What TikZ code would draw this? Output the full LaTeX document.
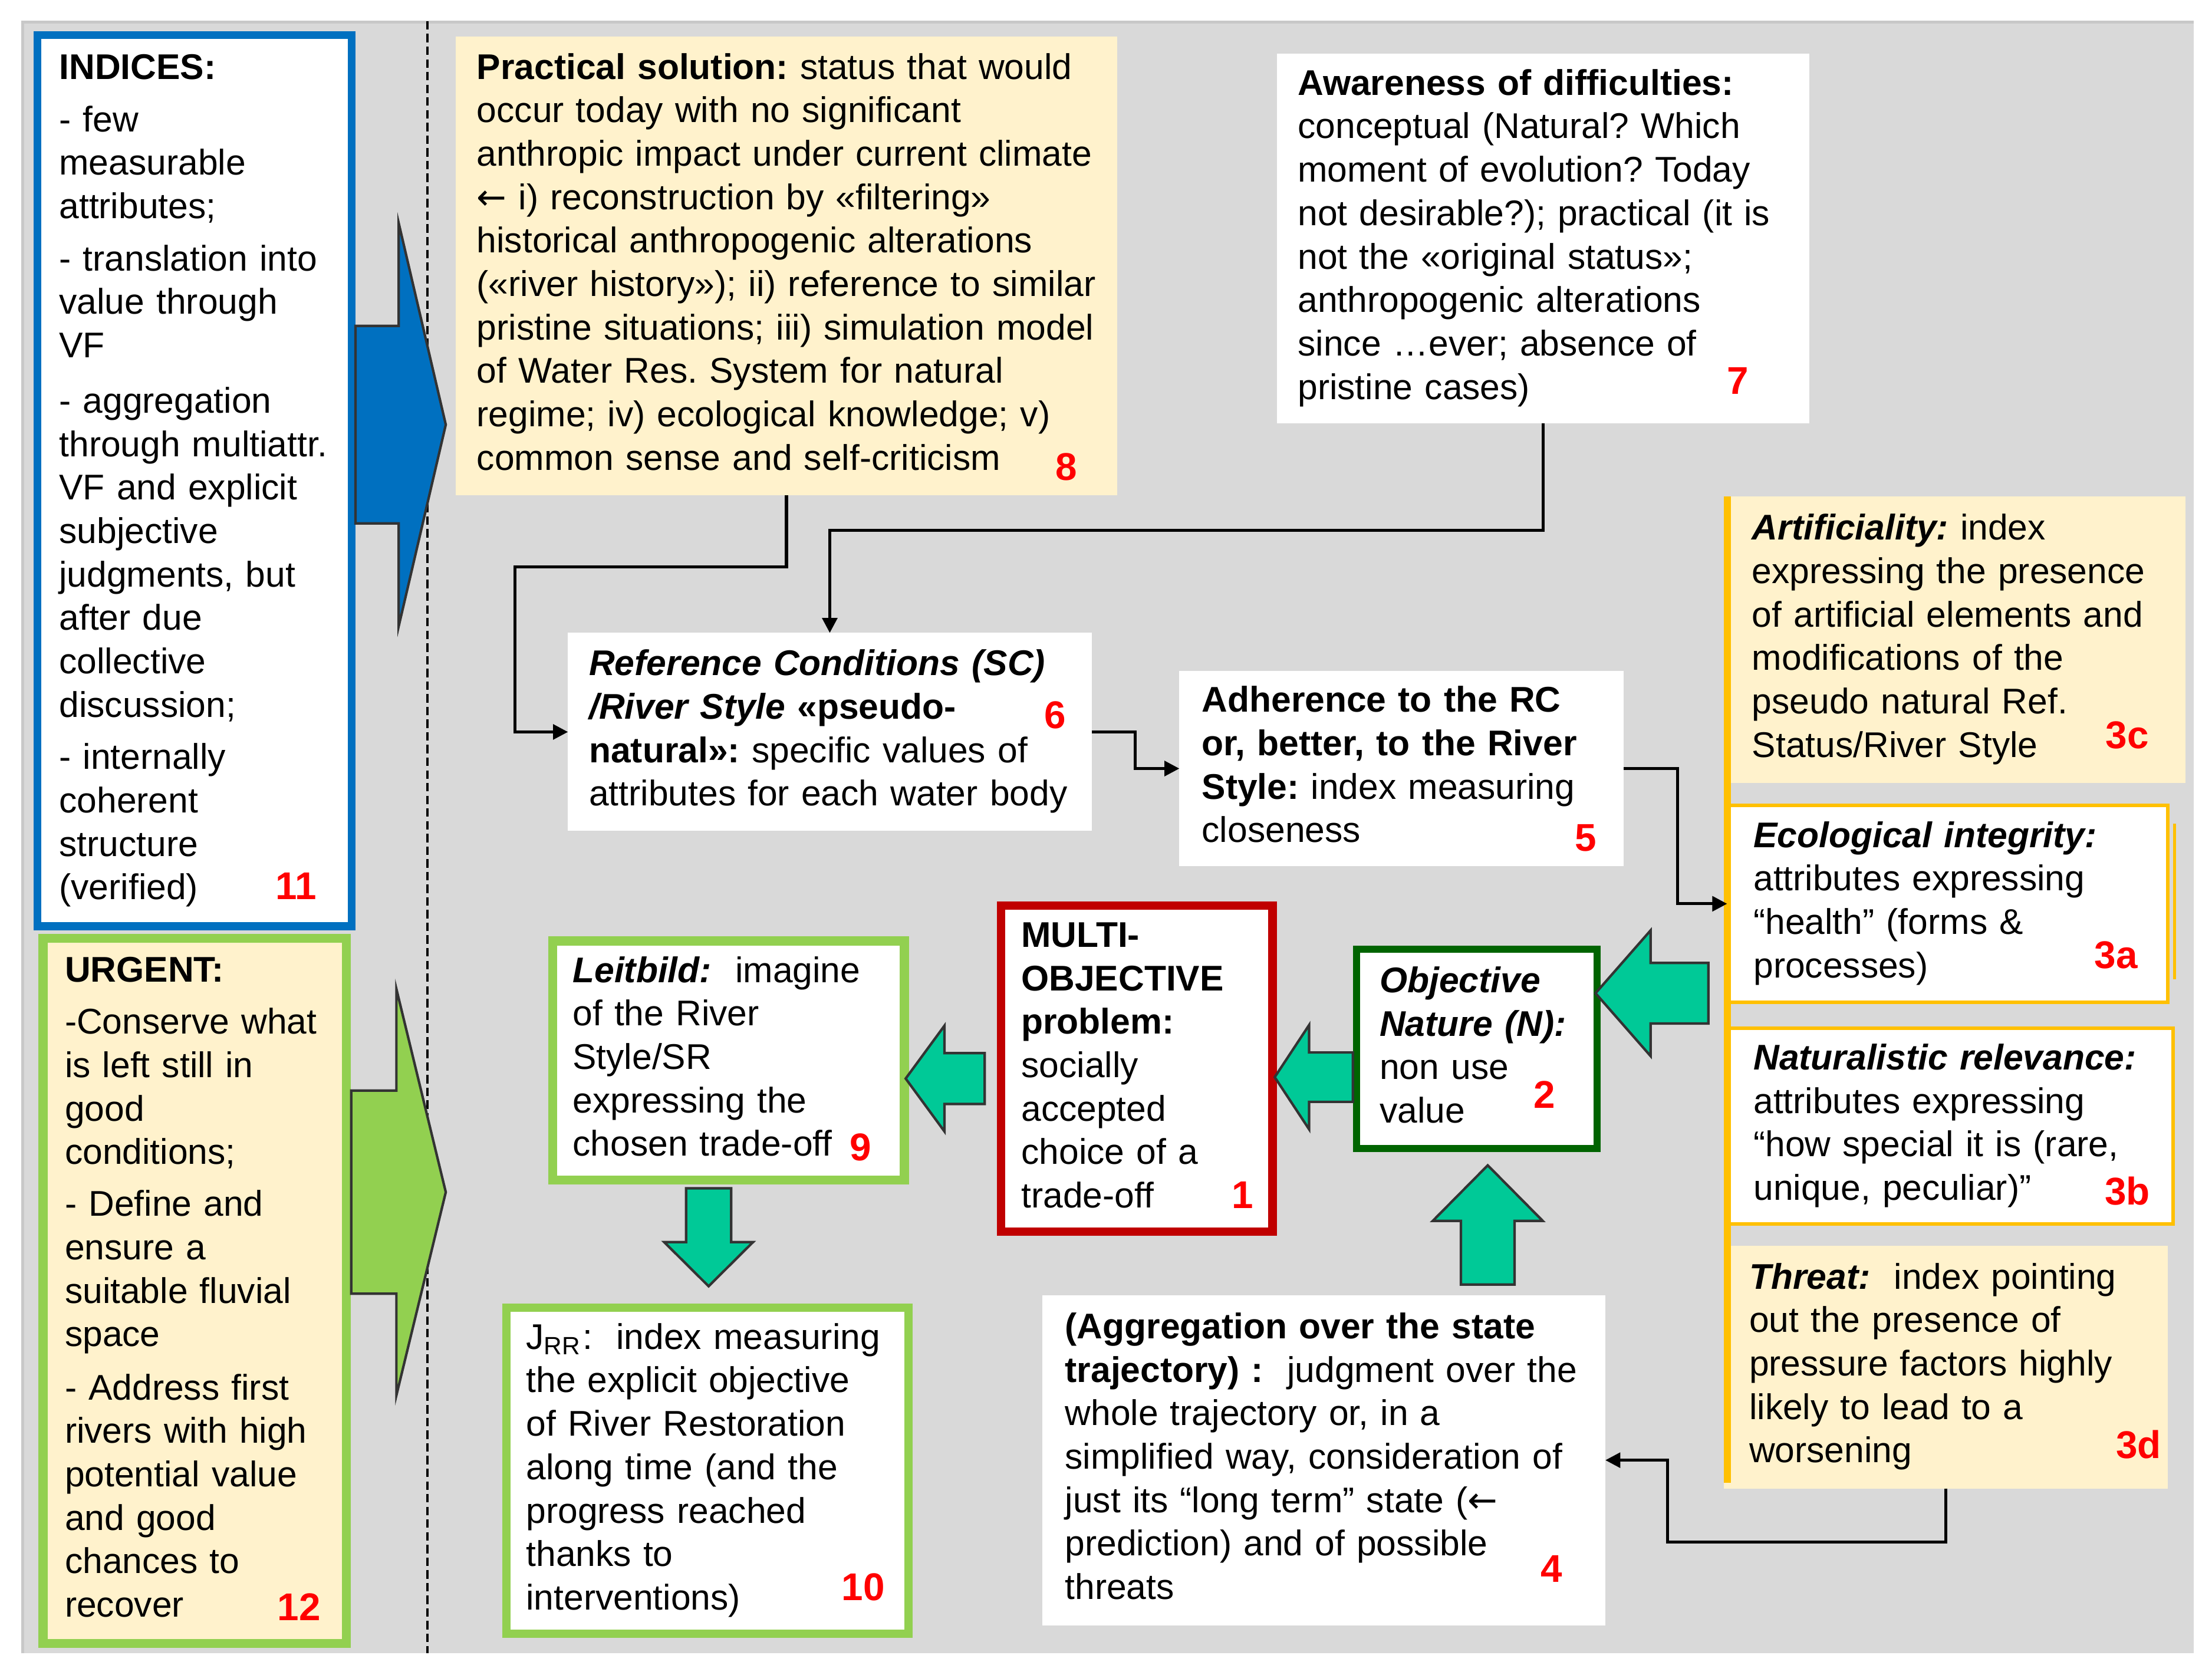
\documentclass[tikz,border=0pt]{standalone}
\usepackage{fontspec}
\setmainfont{Liberation Sans}
\newfontfamily\arrowfont{DejaVu Sans}
\usepackage{xcolor}
\usetikzlibrary{positioning, calc, arrows.meta}

\definecolor{bggray}{RGB}{217,217,217}
\definecolor{bgedge}{RGB}{200,200,200}
\definecolor{cream}{RGB}{255,242,204}
\definecolor{myblue}{RGB}{0,112,192}
\definecolor{lightgreen}{RGB}{146,208,80}
\definecolor{myred}{RGB}{192,0,0}
\definecolor{darkgreen}{RGB}{0,100,0}
\definecolor{myyellow}{RGB}{255,192,0}
\definecolor{myteal}{RGB}{0,201,151}

\newcommand{\boxfont}{\fontsize{7.2pt}{8.76pt}\selectfont\frenchspacing}
\newcommand{\numfont}{\fontsize{7.8pt}{9pt}\selectfont\bfseries}
\newcommand{\boxlines}[1]{\noindent\begin{tabular}{@{}l@{}}#1\end{tabular}}
\newcommand{\larr}{{\arrowfont ←}}
% block arrow: style, tip, direction, length, head length, shaft half width, head half width
\newcommand{\blockarrow}[7]{%
  \filldraw[#1, shift={(#2)}, rotate=#3] (0,0) -- (-#5,-#7) -- (-#5,-#6) -- (-#4,-#6)
    -- (-#4,#6) -- (-#5,#6) -- (-#5,#7) -- cycle;}

\begin{document}
\begin{tikzpicture}[x=0.1mm, y=-0.1mm,
    box/.style={anchor=north west, font=\boxfont, align=left, inner ysep=0pt, outer sep=0pt},
    num/.style={text=red, font=\numfont, inner sep=0pt},
    conn/.style={draw=black, line width=0.6pt, -{Triangle[length=3pt, width=3pt]}},
    tealarrow/.style={fill=myteal, draw=black!80, line width=0.5pt, line join=miter},
  ]
  \useasboundingbox (0,0) rectangle (1568,1187);

  % sfondo grigio e linea tratteggiata
  \fill[bggray] (15,14.6) rectangle (1555,1172);
  \draw[bgedge, line width=0.2mm] (16,1172) -- (16,15.6) -- (1555,15.6);
  \draw[black, line width=0.45pt, dash pattern=on 0.6mm off 0.3mm] (303,15) -- (303,1172);

  % colonna sinistra
  \node[box, draw=myblue, line width=0.55mm, fill=white, minimum width=22.26mm,
        minimum height=63.15mm, text width=19.2mm, inner xsep=1.53mm] (b11) at (26.7,25) {\boxlines{%
    \textbf{INDICES:}\\[1.8pt]
    - few\\
    measurable\\
    attributes;\\[1.8pt]
    - translation into\\
    value through\\
    VF\\[2.4pt]
    - aggregation\\
    through multiattr.\\
    VF and explicit\\
    subjective\\
    judgments, but\\
    after due\\
    collective\\
    discussion;\\[1.8pt]
    - internally\\
    coherent\\
    structure\\
    (verified)}};

  \node[box, draw=lightgreen, line width=0.65mm, fill=cream, minimum width=21.5mm,
        minimum height=50mm, text width=18.4mm, inner xsep=1.55mm] (b12) at (30.5,665) {\boxlines{%
    \textbf{URGENT:}\\[1.7pt]
    -Conserve what\\
    is left still in\\
    good\\
    conditions;\\[1.7pt]
    - Define and\\
    ensure a\\
    suitable fluvial\\
    space\\[2pt]
    - Address first\\
    rivers with high\\
    potential value\\
    and good\\
    chances to\\
    recover}};

  % riquadri in alto
  \node[box, fill=cream, minimum width=46.9mm, minimum height=32.5mm,
        text width=43.9mm, inner xsep=1.5mm] (b8) at (323,26) {\boxlines{%
    \textbf{Practical solution:} status that would\\
    occur today with no significant\\
    anthropic impact under current climate\\
    \larr{} i) reconstruction by «filtering»\\
    historical anthropogenic alterations\\
    («river history»); ii) reference to similar\\
    pristine situations; iii) simulation model\\
    of Water Res. System for natural\\
    regime; iv) ecological knowledge; v)\\
    common sense and self-criticism}};

  \node[box, fill=white, minimum width=37.76mm, minimum height=26.2mm,
        text width=34.76mm, inner xsep=1.5mm] (b7) at (905,38) {\boxlines{%
    \textbf{Awareness of difficulties:}\\
    conceptual (Natural? Which\\
    moment of evolution? Today\\
    not desirable?); practical (it is\\
    not the «original status»;\\
    anthropogenic alterations\\
    since …ever; absence of\\
    pristine cases)}};

  \node[box, fill=white, minimum width=37.12mm, minimum height=14.04mm,
        text width=34.12mm, inner xsep=1.5mm] (b6) at (402.6,448.6) {\boxlines{%
    \textbf{\textit{Reference Conditions (SC)}}\\
    \textbf{\textit{/River Style} «pseudo-}\\
    \textbf{natural»:} specific values of\\
    attributes for each water body}};

  \node[box, fill=white, minimum width=31.5mm, minimum height=13.85mm,
        text width=28.3mm, inner xsep=1.6mm] (b5) at (836,475.5) {\boxlines{%
    \textbf{Adherence to the RC}\\
    \textbf{or, better, to the River}\\
    \textbf{Style:} index measuring\\
    closeness}};

  % colonna destra (3a-3d)
  \node[box, fill=cream, minimum width=32.7mm, minimum height=20.3mm,
        text width=28.7mm, inner xsep=2mm] (b3c) at (1222,352) {\boxlines{%
    \textbf{\textit{Artificiality:}} index\\
    expressing the presence\\
    of artificial elements and\\
    modifications of the\\
    pseudo natural Ref.\\
    Status/River Style}};

  \node[box, draw=myyellow, line width=0.25mm, fill=white, minimum width=31.22mm,
        minimum height=13.96mm, text width=27.48mm, inner xsep=1.87mm] (b3a) at (1224.3,570.8) {\boxlines{%
    \textbf{\textit{Ecological integrity:}}\\
    attributes expressing\\
    “health” (forms \&\\
    processes)}};
  \draw[myyellow, line width=0.2mm] (1541.5,584) -- (1541.5,694);

  \node[box, draw=myyellow, line width=0.25mm, fill=white, minimum width=31.61mm,
        minimum height=13.87mm, text width=27.87mm, inner xsep=1.87mm] (b3b) at (1224.3,729) {\boxlines{%
    \textbf{\textit{Naturalistic relevance:}}\\
    attributes expressing\\
    “how special it is (rare,\\
    unique, peculiar)”}};

  \node[box, fill=cream, minimum width=31.48mm, minimum height=17.2mm,
        text width=27.88mm, inner xsep=1.8mm] (b3d) at (1222,883) {\boxlines{%
    \textbf{\textit{Threat:}}~ index pointing\\
    out the presence of\\
    pressure factors highly\\
    likely to lead to a\\
    worsening}};

  \draw[myyellow, line width=0.5mm] ($(b3c.north west)+(2.5,0)$) -- ($(b3d.south west)+(2.5,-4)$);

  % riquadri centrali
  \node[box, draw=darkgreen, line width=0.5mm, fill=white, minimum width=17.03mm,
        minimum height=14.1mm, text width=13.77mm, inner xsep=1.63mm] (b2) at (961.7,673) {\boxlines{%
    \textbf{\textit{Objective}}\\
    \textbf{\textit{Nature (N):}}\\
    non use\\
    value}};

  \node[box, draw=myred, line width=0.6mm, fill=white, minimum width=19.25mm,
        minimum height=23.1mm, text width=16.35mm, inner xsep=1.45mm] (b1) at (709.5,642) {\boxlines{%
    \textbf{MULTI-}\\
    \textbf{OBJECTIVE}\\
    \textbf{problem:}\\
    socially\\
    accepted\\
    choice of a\\
    trade-off}};

  \node[box, draw=lightgreen, line width=0.65mm, fill=white, minimum width=24.93mm,
        minimum height=16.95mm, text width=22.07mm, inner xsep=1.43mm] (b9) at (391.7,667) {\boxlines{%
    \textbf{\textit{Leitbild:}}~ imagine\\
    of the River\\
    Style/SR\\
    expressing the\\
    chosen trade-off}};

  \node[box, draw=lightgreen, line width=0.6mm, fill=white, minimum width=28.5mm,
        minimum height=23.1mm, text width=25.7mm, inner xsep=1.4mm] (b10) at (359,927) {\boxlines{%
    J\textsubscript{RR}:~ index measuring\\
    the explicit objective\\
    of River Restoration\\
    along time (and the\\
    progress reached\\
    thanks to\\
    interventions)}};

  \node[box, fill=white, minimum width=39.9mm, minimum height=23.4mm,
        text width=36.7mm, inner xsep=1.6mm] (b4) at (739,918) {\boxlines{%
    \textbf{(Aggregation over the state}\\
    \textbf{trajectory) :}~ judgment over the\\
    whole trajectory or, in a\\
    simplified way, consideration of\\
    just its “long term” state (\larr\\
    prediction) and of possible\\
    threats}};

  % frecce grandi
  \blockarrow{fill=myblue, draw=black!80, line width=0.5pt}{316,301}{0}{64}{33.4}{70}{143}
  \blockarrow{fill=lightgreen, draw=black!80, line width=0.5pt}{316,845}{0}{67}{35}{72}{144}
  \blockarrow{tealarrow}{1131,704}{180}{80}{39}{21.5}{44.5}
  \blockarrow{tealarrow}{903.6,763.5}{180}{55.4}{24.4}{17.5}{37}
  \blockarrow{tealarrow}{642,764.5}{180}{56}{27.5}{18}{37.5}
  \blockarrow{tealarrow}{502.3,911.7}{-90}{69.4}{31.3}{16}{31.5}
  \blockarrow{tealarrow}{1054.6,826}{90}{84.5}{39.4}{19}{39}

  % connettori
  \draw[conn] (b8.south) |- (365,402) |- (b6.west);
  \draw[conn] (b7.south) -- ++(0,76) -| (b6.north);
  \draw[conn] (b6.east) -- ++(31,0) |- (b5.west);
  \draw[conn] (b5.east) -- ++(38,0) |- (b3a.west);
  \draw[conn] (b3d.south) -- ++(0,38) -| ($(b4.east)+(44,0)$) -- (b4.east);

  % numeri
  \node[num] (n8) at (756,331) {8};
  \node[num] (n7) at (1232,270) {7};
  \node[num] (n6) at (748,507) {6};
  \node[num] (n5) at (1124,594) {5};
  \node[num] (n3c) at (1508,521) {3c};
  \node[num] (n3a) at (1500,677) {3a};
  \node[num] (n3b) at (1508,844) {3b};
  \node[num] (n3d) at (1516,1024) {3d};
  \node[num] (n2) at (1095,776) {2};
  \node[num] (n1) at (881,847) {1};
  \node[num] (n9) at (610,813) {9};
  \node[num] (n10) at (612,1125) {10};
  \node[num] (n4) at (1100,1112) {4};
  \node[num] (n11) at (210,628) {11};
  \node[num] (n12) at (212,1139) {12};
\end{tikzpicture}
\end{document}
